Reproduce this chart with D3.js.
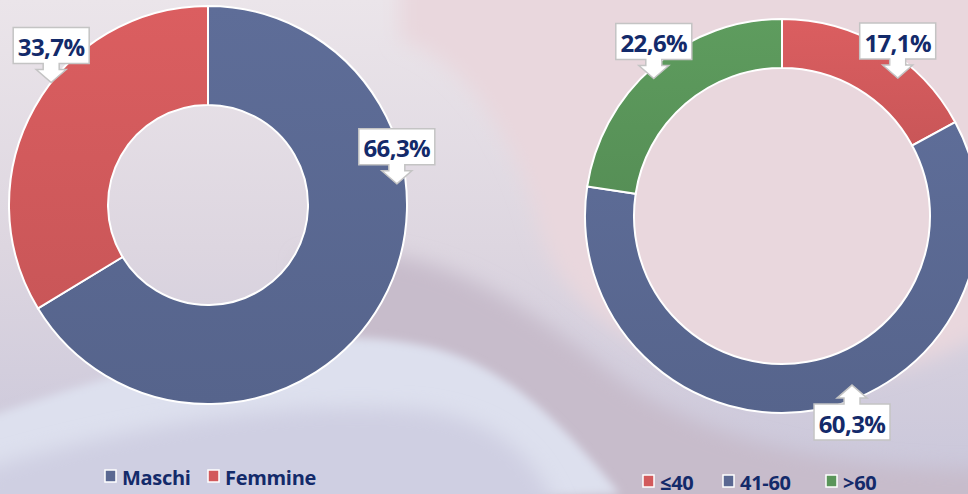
<!DOCTYPE html>
<html lang="it">
<head>
<meta charset="UTF-8">
<title>Donut charts</title>
<script src="https://d3js.org/d3.v7.min.js"></script>
<style>
  body { margin: 0; overflow: hidden; }
  svg { display: block; font-family: "Open Sans", Lato, sans-serif; }
</style>
</head>
<body>
<svg width="968" height="494"></svg>
<script>
// data
const genderCats = ["Maschi", "Femmine"];
const genderVals = [66.3, 33.7];
const ageCats = ["≤40", "41-60", ">60"];
const ageVals = [17.1, 60.3, 22.6];

const BLUE = "#5a6892", RED = "#d25a5c", GREEN = "#5a955a", NAVY = "#132a6a";

const svg = d3.select("svg");
const W = 968, H = 494;
const defs = svg.append("defs");

// ---- background ----
const bg = defs.append("linearGradient").attr("id", "bg")
    .attr("x1", 0).attr("y1", 0).attr("x2", 0).attr("y2", 1);
bg.append("stop").attr("offset", 0).attr("stop-color", "#ebe5ea");
bg.append("stop").attr("offset", 0.5).attr("stop-color", "#ddd6e0");
bg.append("stop").attr("offset", 1).attr("stop-color", "#c9c6da");

defs.append("filter").attr("id", "blur").attr("x", -0.2).attr("y", -0.2)
    .attr("width", 1.4).attr("height", 1.4)
  .append("feGaussianBlur").attr("stdDeviation", 10);
defs.append("filter").attr("id", "blur2").attr("x", -0.2).attr("y", -0.2)
    .attr("width", 1.4).attr("height", 1.4)
  .append("feGaussianBlur").attr("stdDeviation", 4);

svg.append("rect").attr("width", W).attr("height", H).attr("fill", "url(#bg)");

// mauve lower right
svg.append("path")
    .attr("d", "M300,260 C420,230 520,300 620,380 C720,450 860,470 990,470 L990,520 L300,520 Z")
    .attr("fill", "#c7bccb").attr("filter", "url(#blur)");
// pink upper band
svg.append("path")
    .attr("d", "M400,40 C470,60 520,150 540,230 C560,300 620,340 700,370 C800,400 900,380 990,330 L990,-20 L400,-20 Z")
    .attr("fill", "#e9d7dd").attr("filter", "url(#blur)");
// light wave lower left
svg.append("path")
    .attr("d", "M-20,420 C150,360 300,320 420,345 C500,360 560,420 620,494 L-20,520 Z")
    .attr("fill", "#dde0ee").attr("filter", "url(#blur2)");
svg.append("path")
    .attr("d", "M-20,470 C150,420 300,400 420,410 C500,420 540,460 560,520 L-20,520 Z")
    .attr("fill", "#cfcfe2").attr("filter", "url(#blur)");

// slice gradients
function grad(id, c) {
  const g = defs.append("linearGradient").attr("id", id)
      .attr("x1", 0).attr("y1", 0).attr("x2", 0).attr("y2", 1);
  g.append("stop").attr("offset", 0).attr("stop-color", d3.color(c).brighter(0.12));
  g.append("stop").attr("offset", 1).attr("stop-color", d3.color(c).darker(0.12));
}
grad("gBlue", BLUE); grad("gRed", RED); grad("gGreen", GREEN);

const fmt = d3.formatLocale({decimal: ",", thousands: ".", grouping: [3], currency: ["€", ""]}).format(".1f");

// callout with arrow pointing to tip
function callout(g, tx, ty, up, text) {
  const bw = 76, bh = 36, sw = 8, hw = 15, shaft = 6, head = 13;
  const s = up ? 1 : -1;           // up: box below tip
  const yb = ty + s * (head + shaft); // box edge nearest the tip
  const yh = ty + s * head;
  const y2 = yb + s * bh;
  const d = [
    [tx, ty], [tx + hw, yh], [tx + sw, yh], [tx + sw, yb], [tx + bw / 2, yb],
    [tx + bw / 2, y2], [tx - bw / 2, y2], [tx - bw / 2, yb], [tx - sw, yb],
    [tx - sw, yh], [tx - hw, yh]
  ];
  g.append("path").attr("d", d3.line()(d) + "Z")
      .attr("fill", "#ffffff").attr("stroke", "#c4c4c4").attr("stroke-width", 1.5);
  g.append("text").attr("x", tx).attr("y", (yb + y2) / 2 + 1)
      .attr("text-anchor", "middle").attr("dominant-baseline", "central")
      .attr("font-size", 24).attr("font-weight", "bold").attr("fill", NAVY)
      .attr("letter-spacing", -0.6)
      .text(text + "%");
}

function donut(cfg) {
  const g = svg.append("g").attr("transform", `translate(${cfg.cx},${cfg.cy})`);
  const pie = d3.pie().sort(null).value(d => d);
  const arc = d3.arc().innerRadius(cfg.ri).outerRadius(cfg.ro);
  const arcs = pie(cfg.values);
  g.selectAll("path.slice").data(arcs).enter().append("path")
      .attr("class", "slice")
      .attr("d", arc)
      .attr("fill", (d, i) => cfg.fills[i])
      .attr("stroke", "#ffffff").attr("stroke-width", 2);

  // labels
  const lg = svg.append("g");
  arcs.forEach((a, i) => {
    const ang = cfg.labelAngle[i] * Math.PI / 180;
    const r = cfg.labelRadius[i];
    const tx = cfg.cx + r * Math.sin(ang);
    const ty = cfg.cy - r * Math.cos(ang);
    callout(lg, tx, ty, ty > cfg.cy, fmt(cfg.values[i]));
  });

  // legend
  const leg = svg.append("g");
  cfg.cats.forEach((c, i) => {
    const x = cfg.legendX[i];
    leg.append("rect").attr("x", x).attr("y", cfg.legendY - 6).attr("width", 11).attr("height", 12)
        .attr("fill", cfg.colors[i]).attr("stroke", "#ffffff").attr("stroke-width", 1.5);
    leg.append("text").attr("x", x + 17).attr("y", cfg.legendY + 1)
        .attr("dominant-baseline", "central")
        .attr("font-size", 20).attr("font-weight", "bold").attr("fill", NAVY)
        .attr("letter-spacing", -0.3)
        .text(c);
  });
}

donut({
  cx: 208, cy: 205, ro: 199, ri: 100,
  values: genderVals, cats: genderCats,
  fills: ["url(#gBlue)", "url(#gRed)"], colors: [BLUE, RED],
  labelAngle: [83.6, 308], labelRadius: [190, 199],
  legendX: [105, 208], legendY: 476
});

donut({
  cx: 782, cy: 216, ro: 197, ri: 148,
  values: ageVals, cats: ageCats,
  fills: ["url(#gRed)", "url(#gBlue)", "url(#gGreen)"], colors: [RED, BLUE, GREEN],
  labelAngle: [40, 157.5, 317], labelRadius: [180, 183, 188],
  legendX: [643, 723, 826], legendY: 481
});
</script>
</body>
</html>
